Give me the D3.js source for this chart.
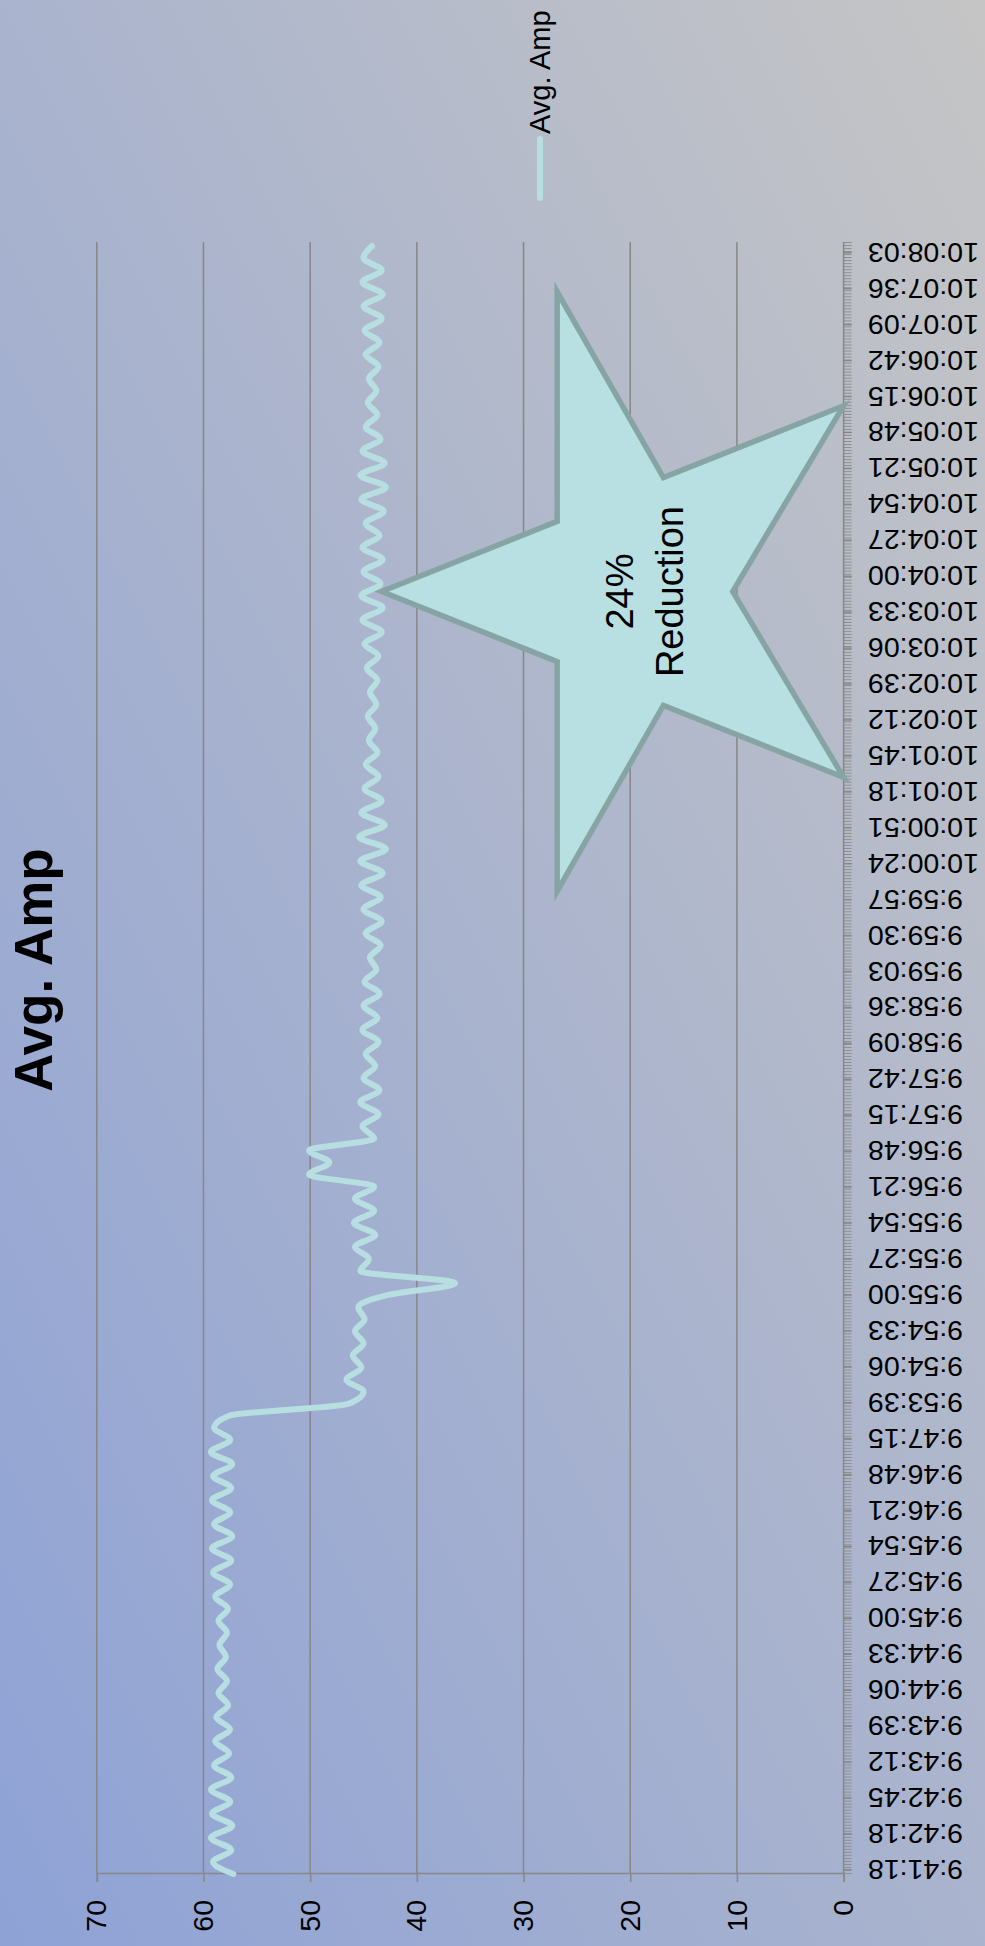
<!DOCTYPE html>
<html>
<head>
<meta charset="utf-8">
<script src="https://cdn.jsdelivr.net/npm/d3@7"></script>
<style>
  body { margin: 0; }
  svg { display: block; }
  text { font-family: "Liberation Sans", Arial, sans-serif; fill: #000; }
</style>
</head>
<body>
<svg id="chart" width="985" height="1946"></svg>
<script>
const chartTitle = 'Avg. Amp';
const seriesName = 'Avg. Amp';
const calloutLines = ['24%', 'Reduction'];

// category labels (Excel only shows every n-th time stamp)
const timeLabels = ['9:41:18','9:42:18','9:42:45','9:43:12','9:43:39','9:44:06','9:44:33','9:45:00',
  '9:45:27','9:45:54','9:46:21','9:46:48','9:47:15','9:53:39','9:54:06','9:54:33','9:55:00',
  '9:55:27','9:55:54','9:56:21','9:56:48','9:57:15','9:57:42','9:58:09','9:58:36','9:59:03',
  '9:59:30','9:59:57','10:00:24','10:00:51','10:01:18','10:01:45','10:02:12','10:02:39',
  '10:03:06','10:03:33','10:04:00','10:04:27','10:04:54','10:05:21','10:05:48','10:06:15',
  '10:06:42','10:07:09','10:07:36','10:08:03'];
const labelStart = 0.3;   // sample index of the first label
const labelStep = 2.98;   // samples between labels

const ampValues = [
  57.2, 59.1, 57.4, 59.3, 57.3, 59.2, 57.5, 59.3, 57.4, 59.0,
  57.6, 58.9, 57.5, 58.8, 57.7, 58.6, 57.8, 58.7, 57.9, 58.5,
  57.8, 58.6, 57.7, 58.9, 57.5, 59.1, 57.4, 59.2, 57.3, 59.0,
  57.5, 59.2, 57.4, 59.1, 57.3, 59.3, 57.5, 59.0, 57.6,
  46.4, 45.0, 46.6, 45.2, 46.0, 45.0, 45.8, 44.9, 45.5, 42.8,
  36.4, 45.3, 44.5, 45.8, 43.9, 45.9, 44.0, 45.8, 44.0, 50.1,
  48.2, 50.1, 44.0,
  45.1, 43.6, 45.3, 43.5, 45.0, 43.9, 44.8, 43.6, 45.1, 43.7,
  45.0, 43.5, 44.9, 43.8, 44.4, 43.4, 44.8, 43.3, 45.0, 43.4,
  45.2, 43.2, 45.3, 42.9, 45.4, 43.0, 45.2, 43.3, 44.9, 43.6,
  44.8, 43.7, 44.5, 43.9, 44.6, 43.8, 44.4, 43.7, 44.7, 43.6,
  44.9, 43.3, 45.1, 43.2, 45.2, 43.4, 45.0, 43.2, 45.1, 43.5,
  44.8, 43.1, 45.2, 42.9, 45.3, 43.0, 45.1, 43.4, 44.8, 43.7,
  44.6, 43.8, 44.5, 43.6, 44.8, 43.5, 44.9, 43.3, 45.0, 43.2,
  45.1, 43.3, 45.0, 44.2
];
const valueTicks = [0, 10, 20, 30, 40, 50, 60, 70];

// the chart is laid out landscape, then turned a quarter turn to the left
const W = 1946, H = 985;
const plot = { left: 72, right: 1704, top: 96.8, bottom: 843.6 };

const svg = d3.select('#chart');
const grad = svg.append('defs').append('linearGradient')
  .attr('id', 'bg').attr('x1', 0).attr('y1', 1).attr('x2', 1).attr('y2', 0);
grad.append('stop').attr('offset', '0%').attr('stop-color', '#8ea2d6');
grad.append('stop').attr('offset', '100%').attr('stop-color', '#c5c5c5');
svg.append('rect').attr('width', 985).attr('height', 1946).attr('fill', 'url(#bg)');

const g = svg.append('g').attr('transform', `translate(0,${W}) rotate(-90)`);

const x = d3.scaleLinear().domain([0, 135.17]).range([plot.left, 1702]);
const y = d3.scaleLinear().domain([0, 70]).range([plot.bottom, plot.top]);

// gridlines
g.append('g')
  .selectAll('line')
  .data(valueTicks.filter(v => v > 0))
  .join('line')
  .attr('x1', plot.left).attr('x2', plot.right)
  .attr('y1', d => y(d)).attr('y2', d => y(d))
  .attr('stroke', '#878787').attr('stroke-width', 1.5);

// value axis
const yAxis = g.append('g')
  .attr('transform', `translate(${plot.left},0)`)
  .call(d3.axisLeft(y).tickValues(valueTicks).tickSize(8).tickPadding(18));
yAxis.selectAll('path, line').attr('stroke', '#878787').attr('stroke-width', 1.5);
yAxis.selectAll('text').style('font-size', '28.5px').attr('fill', '#000');

// category axis: dense minor ticks plus labelled ticks
const minor = g.append('g')
  .attr('transform', `translate(0,${plot.bottom})`)
  .call(d3.axisBottom(x).tickValues(d3.range(0, 135.3, 0.25)).tickFormat('').tickSize(8));
minor.select('.domain').remove();
minor.selectAll('line').attr('stroke', '#8f8f8f').attr('stroke-width', 1);

const xAxis = g.append('g')
  .attr('transform', `translate(0,${plot.bottom})`)
  .call(d3.axisBottom(x)
    .tickValues(timeLabels.map((_, k) => labelStart + k * labelStep))
    .tickFormat((_, k) => timeLabels[k])
    .tickSize(8));
xAxis.select('.domain').attr('d', `M${plot.left},0H${plot.right}`);
xAxis.selectAll('path, line').attr('stroke', '#878787').attr('stroke-width', 1.5);
xAxis.selectAll('text')
  .attr('transform', 'rotate(-90)')
  .attr('x', -24.4).attr('y', 0).attr('dy', '0.35em')
  .attr('text-anchor', 'end')
  .style('font-size', '28.5px').attr('fill', '#000');

// series line
const line = d3.line()
  .x((d, i) => x(i))
  .y(d => y(d))
  .curve(d3.curveMonotoneX);
g.append('path')
  .datum(ampValues)
  .attr('d', line)
  .attr('fill', 'none')
  .attr('stroke', '#b7dfe1')
  .attr('stroke-width', 6)
  .attr('stroke-linejoin', 'round')
  .attr('stroke-linecap', 'round');

// star callout
const starBox = { i0: 81.5, i1: 131.2, v0: 0, v1: 43.3 };
const starShape = [[0.5, 0], [0.617, 0.38], [1, 0.38], [0.69, 0.61], [0.81, 1],
  [0.5, 0.76], [0.19, 1], [0.31, 0.61], [0, 0.38], [0.383, 0.38]];
const sx = d3.scaleLinear().range([x(starBox.i0), x(starBox.i1)]);
const sy = d3.scaleLinear().range([y(starBox.v1), y(starBox.v0)]);
g.append('path')
  .attr('d', 'M' + starShape.map(p => `${sx(p[0])},${sy(p[1])}`).join('L') + 'Z')
  .attr('fill', '#b8dfe2')
  .attr('stroke', '#87a4a5')
  .attr('stroke-width', 5.5)
  .attr('stroke-linejoin', 'miter');

const starText = g.append('text')
  .attr('text-anchor', 'middle')
  .style('font-size', '38px');
starText.selectAll('tspan')
  .data(calloutLines)
  .join('tspan')
  .attr('x', sx(0.5))
  .attr('y', (d, i) => 620 + i * 50)
  .attr('dy', '0.35em')
  .text(d => d);

// legend
g.append('line')
  .attr('x1', 1748).attr('x2', 1807).attr('y1', 540).attr('y2', 540)
  .attr('stroke', '#b7dfe1').attr('stroke-width', 6).attr('stroke-linecap', 'round');
g.append('text')
  .attr('x', 1812).attr('y', 540).attr('dy', '0.35em')
  .style('font-size', '29px')
  .text(seriesName);

// title
g.append('text')
  .attr('x', 976).attr('y', 52)
  .attr('text-anchor', 'middle')
  .style('font-size', '53px').style('font-weight', 'bold')
  .text(chartTitle);
</script>
</body>
</html>
